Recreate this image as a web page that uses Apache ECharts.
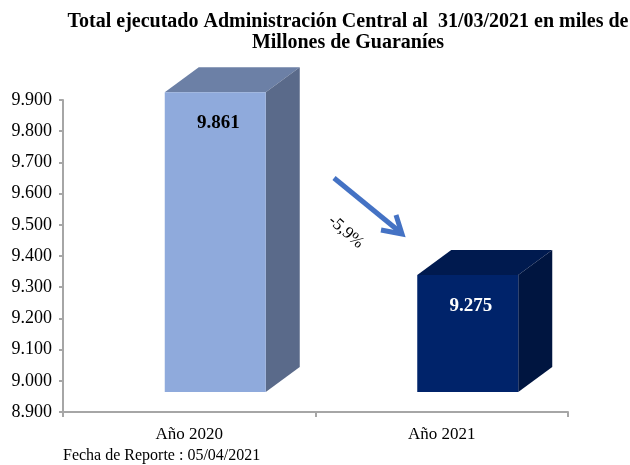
<!DOCTYPE html>
<html>
<head>
<meta charset="utf-8">
<script src="https://cdn.jsdelivr.net/npm/echarts@6/dist/echarts.min.js"></script>
<style>
  html, body { margin: 0; padding: 0; background: #fff; }
  #chart { width: 630px; height: 465px; }
</style>
</head>
<body>
<div id="chart"></div>
<script>
const categories = ['Año 2020', 'Año 2021']
const values = [9861, 9275]
const yTicks = [8900, 9000, 9100, 9200, 9300, 9400, 9500, 9600, 9700, 9800, 9900]
const change = '-5,9%'

const frontColors = ['#8FAADC', '#00236A']
const topColors = ['#6C80A6', '#001A4F']
const sideColors = ['#5A6A8A', '#001540']
const labelColors = ['#000000', '#FFFFFF']

const serif = '"Liberation Serif", "Times New Roman", serif'
const yMin = yTicks[0]
const yMax = yTicks[yTicks.length - 1]

const fmt = v => {
  const s = String(Math.round(v))
  return s.slice(0, s.length - 3) + '.' + s.slice(s.length - 3)
}

const chart = echarts.init(document.getElementById('chart'))

// 3D look: front face lifted 20px above the axis plane, depth 34 x -25
function renderBar(params, api) {
  const idx = params.dataIndex
  const cat = api.value(0)
  const val = api.value(1)
  const top = api.coord([cat, val])
  const base = api.coord([cat, yMin])
  const bw = api.size([1, 0])[0] * 0.4
  const dx = 34
  const dy = -25
  const lift = 20
  const x0 = top[0] - bw / 2 + 26
  const x1 = x0 + bw
  const yT = top[1] - lift
  const yB = base[1] - lift
  return {
    type: 'group',
    children: [
      {
        type: 'polygon',
        shape: { points: [[x0, yT], [x1, yT], [x1 + dx, yT + dy], [x0 + dx, yT + dy]] },
        style: { fill: topColors[idx] }
      },
      {
        type: 'polygon',
        shape: { points: [[x1, yT], [x1 + dx, yT + dy], [x1 + dx, yB + dy], [x1, yB]] },
        style: { fill: sideColors[idx] }
      },
      {
        type: 'rect',
        shape: { x: x0, y: yT, width: bw, height: yB - yT },
        style: { fill: frontColors[idx] }
      },
      {
        type: 'text',
        style: {
          x: (x0 + x1) / 2 + 3,
          y: yT + 31,
          text: fmt(val),
          fill: labelColors[idx],
          font: 'bold 19px ' + serif,
          align: 'center',
          verticalAlign: 'middle'
        }
      }
    ]
  }
}

chart.setOption({
  animation: false,
  title: {
    text: 'Total ejecutado Administración Central al  31/03/2021 en miles de\nMillones de Guaraníes',
    left: 343,
    top: 6,
    textAlign: 'center',
    textStyle: {
      fontFamily: serif,
      fontSize: 20,
      fontWeight: 'bold',
      color: '#000',
      lineHeight: 21
    }
  },
  grid: { left: 63, right: 62, top: 100, bottom: 53 },
  xAxis: {
    type: 'category',
    data: categories,
    axisLine: { lineStyle: { color: '#A6A6A6', width: 2 } },
    axisTick: { show: true, length: 5, lineStyle: { color: '#A6A6A6', width: 2 } },
    axisLabel: { fontFamily: serif, fontSize: 17, color: '#000', margin: 14 }
  },
  yAxis: {
    type: 'value',
    min: yMin,
    max: yMax,
    interval: 100,
    splitLine: { show: false },
    axisLine: { show: true, lineStyle: { color: '#A6A6A6', width: 2 } },
    axisTick: { show: true, length: 4, lineStyle: { color: '#A6A6A6', width: 2 } },
    axisLabel: { fontFamily: serif, fontSize: 18, color: '#000', margin: 11, formatter: fmt }
  },
  series: [{
    type: 'custom',
    renderItem: renderBar,
    data: values.map((v, i) => [i, v]),
    clip: false
  }],
  graphic: [
    {
      type: 'line',
      shape: { x1: 334, y1: 178, x2: 400, y2: 232 },
      style: { stroke: '#4472C4', lineWidth: 5 }
    },
    {
      type: 'polyline',
      shape: { points: [[381, 230], [402, 234], [396, 215]] },
      style: { stroke: '#4472C4', lineWidth: 5, fill: null, lineJoin: 'miter' }
    },
    {
      type: 'text',
      x: 346,
      y: 232,
      rotation: -0.72,
      style: {
        text: change,
        font: '17px ' + serif,
        fill: '#000',
        align: 'center',
        verticalAlign: 'middle'
      }
    },
    {
      type: 'text',
      left: 63,
      top: 448,
      style: {
        text: 'Fecha de Reporte : 05/04/2021',
        font: '16px ' + serif,
        fill: '#000'
      }
    }
  ]
})
</script>
</body>
</html>
